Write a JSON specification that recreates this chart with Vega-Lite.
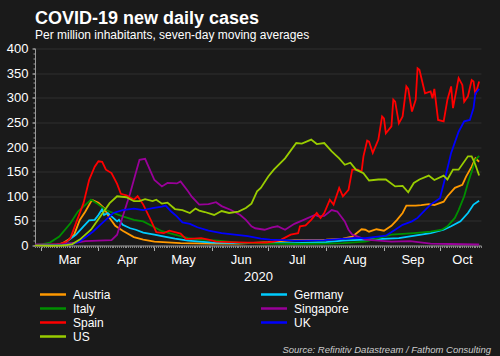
{
"$schema": "https://vega.github.io/schema/vega-lite/v6.json",
"width": 446, "height": 197,
"autosize": {"type": "none"},
"padding": {"left": 35, "top": 48.5, "right": 19, "bottom": 110.5},
"background": "#1a1a1a",
"title": {"text": "COVID-19 new daily cases", "subtitle": "Per million inhabitants, seven-day moving averages", "anchor": "start", "frame": "group", "offset": 2, "font": "Liberation Sans", "fontSize": 18, "fontWeight": "bold", "color": "#ffffff", "subtitleFont": "Liberation Sans", "subtitleFontSize": 12, "subtitleColor": "#ffffff", "subtitlePadding": 1.5},
"datasets": {"covid": [
{"d":"2020-02-27","c":"Austria","v":0},{"d":"2020-03-08","c":"Austria","v":0},{"d":"2020-03-10","c":"Austria","v":2},{"d":"2020-03-13","c":"Austria","v":5},{"d":"2020-03-16","c":"Austria","v":12},{"d":"2020-03-19","c":"Austria","v":22},{"d":"2020-03-22","c":"Austria","v":52},{"d":"2020-03-25","c":"Austria","v":69},{"d":"2020-03-28","c":"Austria","v":89},{"d":"2020-03-29","c":"Austria","v":92},{"d":"2020-04-01","c":"Austria","v":87},{"d":"2020-04-04","c":"Austria","v":76},{"d":"2020-04-07","c":"Austria","v":56},{"d":"2020-04-10","c":"Austria","v":40},{"d":"2020-04-14","c":"Austria","v":30},{"d":"2020-04-20","c":"Austria","v":17},{"d":"2020-04-25","c":"Austria","v":12},{"d":"2020-05-01","c":"Austria","v":8},{"d":"2020-05-15","c":"Austria","v":5},{"d":"2020-06-01","c":"Austria","v":4},{"d":"2020-06-15","c":"Austria","v":4},{"d":"2020-07-01","c":"Austria","v":7},{"d":"2020-07-15","c":"Austria","v":11},{"d":"2020-08-01","c":"Austria","v":12},{"d":"2020-08-10","c":"Austria","v":14},{"d":"2020-08-15","c":"Austria","v":18},{"d":"2020-08-20","c":"Austria","v":33},{"d":"2020-08-22","c":"Austria","v":32},{"d":"2020-08-24","c":"Austria","v":28},{"d":"2020-08-28","c":"Austria","v":33},{"d":"2020-09-01","c":"Austria","v":30},{"d":"2020-09-05","c":"Austria","v":40},{"d":"2020-09-08","c":"Austria","v":52},{"d":"2020-09-11","c":"Austria","v":66},{"d":"2020-09-13","c":"Austria","v":81},{"d":"2020-09-18","c":"Austria","v":81},{"d":"2020-09-21","c":"Austria","v":82},{"d":"2020-09-25","c":"Austria","v":84},{"d":"2020-09-28","c":"Austria","v":82},{"d":"2020-10-03","c":"Austria","v":89},{"d":"2020-10-05","c":"Austria","v":100},{"d":"2020-10-09","c":"Austria","v":117},{"d":"2020-10-13","c":"Austria","v":123},{"d":"2020-10-15","c":"Austria","v":140},{"d":"2020-10-18","c":"Austria","v":160},{"d":"2020-10-20","c":"Austria","v":177},{"d":"2020-10-22","c":"Austria","v":170},
{"d":"2020-02-27","c":"Germany","v":0},{"d":"2020-03-10","c":"Germany","v":1},{"d":"2020-03-14","c":"Germany","v":5},{"d":"2020-03-20","c":"Germany","v":22},{"d":"2020-03-24","c":"Germany","v":39},{"d":"2020-03-27","c":"Germany","v":51},{"d":"2020-03-30","c":"Germany","v":52},{"d":"2020-04-01","c":"Germany","v":62},{"d":"2020-04-03","c":"Germany","v":74},{"d":"2020-04-04","c":"Germany","v":62},{"d":"2020-04-06","c":"Germany","v":66},{"d":"2020-04-08","c":"Germany","v":59},{"d":"2020-04-11","c":"Germany","v":49},{"d":"2020-04-12","c":"Germany","v":52},{"d":"2020-04-14","c":"Germany","v":42},{"d":"2020-04-18","c":"Germany","v":35},{"d":"2020-04-21","c":"Germany","v":32},{"d":"2020-04-25","c":"Germany","v":26},{"d":"2020-05-01","c":"Germany","v":22},{"d":"2020-05-05","c":"Germany","v":19},{"d":"2020-05-12","c":"Germany","v":14},{"d":"2020-05-19","c":"Germany","v":10},{"d":"2020-06-01","c":"Germany","v":6},{"d":"2020-06-15","c":"Germany","v":5},{"d":"2020-07-01","c":"Germany","v":5},{"d":"2020-07-15","c":"Germany","v":5},{"d":"2020-08-01","c":"Germany","v":7},{"d":"2020-08-10","c":"Germany","v":10},{"d":"2020-08-22","c":"Germany","v":12},{"d":"2020-09-09","c":"Germany","v":15},{"d":"2020-09-26","c":"Germany","v":25},{"d":"2020-10-03","c":"Germany","v":32},{"d":"2020-10-07","c":"Germany","v":39},{"d":"2020-10-12","c":"Germany","v":49},{"d":"2020-10-16","c":"Germany","v":66},{"d":"2020-10-19","c":"Germany","v":83},{"d":"2020-10-22","c":"Germany","v":91},
{"d":"2020-02-27","c":"Italy","v":1},{"d":"2020-03-02","c":"Italy","v":3},{"d":"2020-03-06","c":"Italy","v":6},{"d":"2020-03-11","c":"Italy","v":18},{"d":"2020-03-17","c":"Italy","v":45},{"d":"2020-03-21","c":"Italy","v":69},{"d":"2020-03-26","c":"Italy","v":86},{"d":"2020-03-28","c":"Italy","v":93},{"d":"2020-03-31","c":"Italy","v":86},{"d":"2020-04-05","c":"Italy","v":72},{"d":"2020-04-09","c":"Italy","v":66},{"d":"2020-04-14","c":"Italy","v":59},{"d":"2020-04-20","c":"Italy","v":52},{"d":"2020-04-25","c":"Italy","v":49},{"d":"2020-04-30","c":"Italy","v":39},{"d":"2020-05-05","c":"Italy","v":29},{"d":"2020-05-12","c":"Italy","v":22},{"d":"2020-05-19","c":"Italy","v":15},{"d":"2020-05-26","c":"Italy","v":12},{"d":"2020-06-04","c":"Italy","v":10},{"d":"2020-06-15","c":"Italy","v":6},{"d":"2020-07-01","c":"Italy","v":4},{"d":"2020-07-15","c":"Italy","v":3},{"d":"2020-08-01","c":"Italy","v":4},{"d":"2020-08-10","c":"Italy","v":5},{"d":"2020-08-22","c":"Italy","v":8},{"d":"2020-09-05","c":"Italy","v":22},{"d":"2020-09-17","c":"Italy","v":25},{"d":"2020-09-26","c":"Italy","v":28},{"d":"2020-10-02","c":"Italy","v":32},{"d":"2020-10-05","c":"Italy","v":39},{"d":"2020-10-09","c":"Italy","v":56},{"d":"2020-10-11","c":"Italy","v":72},{"d":"2020-10-14","c":"Italy","v":100},{"d":"2020-10-16","c":"Italy","v":127},{"d":"2020-10-18","c":"Italy","v":150},{"d":"2020-10-20","c":"Italy","v":174},{"d":"2020-10-22","c":"Italy","v":182},
{"d":"2020-02-27","c":"Singapore","v":2},{"d":"2020-03-10","c":"Singapore","v":2},{"d":"2020-03-20","c":"Singapore","v":6},{"d":"2020-03-25","c":"Singapore","v":9},{"d":"2020-04-01","c":"Singapore","v":10},{"d":"2020-04-08","c":"Singapore","v":11},{"d":"2020-04-11","c":"Singapore","v":22},{"d":"2020-04-14","c":"Singapore","v":59},{"d":"2020-04-18","c":"Singapore","v":106},{"d":"2020-04-21","c":"Singapore","v":147},{"d":"2020-04-23","c":"Singapore","v":174},{"d":"2020-04-26","c":"Singapore","v":176},{"d":"2020-04-29","c":"Singapore","v":150},{"d":"2020-05-01","c":"Singapore","v":133},{"d":"2020-05-05","c":"Singapore","v":120},{"d":"2020-05-08","c":"Singapore","v":127},{"d":"2020-05-13","c":"Singapore","v":126},{"d":"2020-05-15","c":"Singapore","v":130},{"d":"2020-05-19","c":"Singapore","v":110},{"d":"2020-05-21","c":"Singapore","v":99},{"d":"2020-05-25","c":"Singapore","v":83},{"d":"2020-05-30","c":"Singapore","v":84},{"d":"2020-06-03","c":"Singapore","v":88},{"d":"2020-06-06","c":"Singapore","v":80},{"d":"2020-06-11","c":"Singapore","v":72},{"d":"2020-06-16","c":"Singapore","v":62},{"d":"2020-06-19","c":"Singapore","v":52},{"d":"2020-06-22","c":"Singapore","v":39},{"d":"2020-06-24","c":"Singapore","v":35},{"d":"2020-06-29","c":"Singapore","v":32},{"d":"2020-07-03","c":"Singapore","v":37},{"d":"2020-07-06","c":"Singapore","v":39},{"d":"2020-07-10","c":"Singapore","v":32},{"d":"2020-07-15","c":"Singapore","v":44},{"d":"2020-07-20","c":"Singapore","v":52},{"d":"2020-07-26","c":"Singapore","v":62},{"d":"2020-07-28","c":"Singapore","v":59},{"d":"2020-07-31","c":"Singapore","v":60},{"d":"2020-08-04","c":"Singapore","v":72},{"d":"2020-08-07","c":"Singapore","v":69},{"d":"2020-08-11","c":"Singapore","v":49},{"d":"2020-08-13","c":"Singapore","v":32},{"d":"2020-08-15","c":"Singapore","v":22},{"d":"2020-08-18","c":"Singapore","v":18},{"d":"2020-08-22","c":"Singapore","v":12},{"d":"2020-09-05","c":"Singapore","v":8},{"d":"2020-09-15","c":"Singapore","v":9},{"d":"2020-09-26","c":"Singapore","v":4},{"d":"2020-10-06","c":"Singapore","v":3},{"d":"2020-10-22","c":"Singapore","v":2},
{"d":"2020-02-27","c":"Spain","v":0},{"d":"2020-03-05","c":"Spain","v":1},{"d":"2020-03-09","c":"Spain","v":2},{"d":"2020-03-12","c":"Spain","v":4},{"d":"2020-03-15","c":"Spain","v":8},{"d":"2020-03-17","c":"Spain","v":15},{"d":"2020-03-20","c":"Spain","v":46},{"d":"2020-03-24","c":"Spain","v":86},{"d":"2020-03-27","c":"Spain","v":133},{"d":"2020-03-30","c":"Spain","v":160},{"d":"2020-04-01","c":"Spain","v":171},{"d":"2020-04-03","c":"Spain","v":170},{"d":"2020-04-05","c":"Spain","v":154},{"d":"2020-04-08","c":"Spain","v":147},{"d":"2020-04-11","c":"Spain","v":125},{"d":"2020-04-13","c":"Spain","v":105},{"d":"2020-04-16","c":"Spain","v":102},{"d":"2020-04-20","c":"Spain","v":93},{"d":"2020-04-22","c":"Spain","v":100},{"d":"2020-04-25","c":"Spain","v":83},{"d":"2020-04-29","c":"Spain","v":52},{"d":"2020-05-02","c":"Spain","v":27},{"d":"2020-05-06","c":"Spain","v":25},{"d":"2020-05-09","c":"Spain","v":30},{"d":"2020-05-13","c":"Spain","v":26},{"d":"2020-05-15","c":"Spain","v":24},{"d":"2020-05-18","c":"Spain","v":13},{"d":"2020-05-22","c":"Spain","v":14},{"d":"2020-05-26","c":"Spain","v":15},{"d":"2020-05-30","c":"Spain","v":12},{"d":"2020-06-03","c":"Spain","v":8},{"d":"2020-06-10","c":"Spain","v":7},{"d":"2020-06-20","c":"Spain","v":6},{"d":"2020-06-30","c":"Spain","v":6},{"d":"2020-07-04","c":"Spain","v":8},{"d":"2020-07-08","c":"Spain","v":12},{"d":"2020-07-13","c":"Spain","v":22},{"d":"2020-07-17","c":"Spain","v":25},{"d":"2020-07-18","c":"Spain","v":39},{"d":"2020-07-21","c":"Spain","v":41},{"d":"2020-07-24","c":"Spain","v":52},{"d":"2020-07-27","c":"Spain","v":66},{"d":"2020-07-29","c":"Spain","v":56},{"d":"2020-07-31","c":"Spain","v":66},{"d":"2020-08-03","c":"Spain","v":93},{"d":"2020-08-05","c":"Spain","v":83},{"d":"2020-08-08","c":"Spain","v":117},{"d":"2020-08-10","c":"Spain","v":100},{"d":"2020-08-13","c":"Spain","v":113},{"d":"2020-08-15","c":"Spain","v":154},{"d":"2020-08-18","c":"Spain","v":154},{"d":"2020-08-20","c":"Spain","v":150},{"d":"2020-08-21","c":"Spain","v":181},{"d":"2020-08-23","c":"Spain","v":213},{"d":"2020-08-24","c":"Spain","v":211},{"d":"2020-08-26","c":"Spain","v":188},{"d":"2020-08-29","c":"Spain","v":215},{"d":"2020-08-31","c":"Spain","v":262},{"d":"2020-09-01","c":"Spain","v":258},{"d":"2020-09-02","c":"Spain","v":228},{"d":"2020-09-05","c":"Spain","v":242},{"d":"2020-09-06","c":"Spain","v":296},{"d":"2020-09-07","c":"Spain","v":292},{"d":"2020-09-09","c":"Spain","v":248},{"d":"2020-09-11","c":"Spain","v":262},{"d":"2020-09-13","c":"Spain","v":323},{"d":"2020-09-14","c":"Spain","v":318},{"d":"2020-09-16","c":"Spain","v":272},{"d":"2020-09-18","c":"Spain","v":296},{"d":"2020-09-19","c":"Spain","v":360},{"d":"2020-09-20","c":"Spain","v":357},{"d":"2020-09-23","c":"Spain","v":309},{"d":"2020-09-26","c":"Spain","v":313},{"d":"2020-09-27","c":"Spain","v":299},{"d":"2020-09-28","c":"Spain","v":318},{"d":"2020-09-30","c":"Spain","v":255},{"d":"2020-10-03","c":"Spain","v":252},{"d":"2020-10-05","c":"Spain","v":296},{"d":"2020-10-07","c":"Spain","v":323},{"d":"2020-10-08","c":"Spain","v":279},{"d":"2020-10-11","c":"Spain","v":340},{"d":"2020-10-13","c":"Spain","v":326},{"d":"2020-10-14","c":"Spain","v":292},{"d":"2020-10-16","c":"Spain","v":303},{"d":"2020-10-18","c":"Spain","v":336},{"d":"2020-10-19","c":"Spain","v":333},{"d":"2020-10-20","c":"Spain","v":306},{"d":"2020-10-22","c":"Spain","v":333},
{"d":"2020-02-27","c":"UK","v":0},{"d":"2020-03-15","c":"UK","v":2},{"d":"2020-03-18","c":"UK","v":3},{"d":"2020-03-22","c":"UK","v":8},{"d":"2020-03-29","c":"UK","v":28},{"d":"2020-04-04","c":"UK","v":49},{"d":"2020-04-09","c":"UK","v":66},{"d":"2020-04-14","c":"UK","v":72},{"d":"2020-04-20","c":"UK","v":75},{"d":"2020-04-25","c":"UK","v":72},{"d":"2020-04-30","c":"UK","v":76},{"d":"2020-05-05","c":"UK","v":79},{"d":"2020-05-07","c":"UK","v":81},{"d":"2020-05-10","c":"UK","v":69},{"d":"2020-05-13","c":"UK","v":59},{"d":"2020-05-16","c":"UK","v":47},{"d":"2020-05-20","c":"UK","v":44},{"d":"2020-05-24","c":"UK","v":37},{"d":"2020-05-30","c":"UK","v":30},{"d":"2020-06-06","c":"UK","v":25},{"d":"2020-06-13","c":"UK","v":22},{"d":"2020-06-20","c":"UK","v":19},{"d":"2020-06-27","c":"UK","v":14},{"d":"2020-07-02","c":"UK","v":12},{"d":"2020-07-15","c":"UK","v":10},{"d":"2020-07-31","c":"UK","v":11},{"d":"2020-08-15","c":"UK","v":15},{"d":"2020-08-22","c":"UK","v":15},{"d":"2020-09-02","c":"UK","v":20},{"d":"2020-09-07","c":"UK","v":32},{"d":"2020-09-11","c":"UK","v":42},{"d":"2020-09-16","c":"UK","v":49},{"d":"2020-09-19","c":"UK","v":56},{"d":"2020-09-23","c":"UK","v":72},{"d":"2020-09-26","c":"UK","v":83},{"d":"2020-10-01","c":"UK","v":96},{"d":"2020-10-04","c":"UK","v":140},{"d":"2020-10-07","c":"UK","v":188},{"d":"2020-10-11","c":"UK","v":231},{"d":"2020-10-14","c":"UK","v":252},{"d":"2020-10-17","c":"UK","v":255},{"d":"2020-10-19","c":"UK","v":279},{"d":"2020-10-20","c":"UK","v":309},{"d":"2020-10-22","c":"UK","v":318},
{"d":"2020-02-27","c":"US","v":0},{"d":"2020-03-12","c":"US","v":0},{"d":"2020-03-15","c":"US","v":1},{"d":"2020-03-18","c":"US","v":3},{"d":"2020-03-22","c":"US","v":12},{"d":"2020-03-28","c":"US","v":32},{"d":"2020-04-02","c":"US","v":59},{"d":"2020-04-07","c":"US","v":86},{"d":"2020-04-11","c":"US","v":100},{"d":"2020-04-16","c":"US","v":98},{"d":"2020-04-20","c":"US","v":90},{"d":"2020-04-23","c":"US","v":90},{"d":"2020-04-26","c":"US","v":94},{"d":"2020-04-30","c":"US","v":90},{"d":"2020-05-02","c":"US","v":93},{"d":"2020-05-05","c":"US","v":85},{"d":"2020-05-08","c":"US","v":87},{"d":"2020-05-12","c":"US","v":74},{"d":"2020-05-16","c":"US","v":72},{"d":"2020-05-20","c":"US","v":66},{"d":"2020-05-23","c":"US","v":75},{"d":"2020-05-25","c":"US","v":71},{"d":"2020-05-28","c":"US","v":68},{"d":"2020-06-02","c":"US","v":62},{"d":"2020-06-06","c":"US","v":70},{"d":"2020-06-10","c":"US","v":66},{"d":"2020-06-15","c":"US","v":69},{"d":"2020-06-19","c":"US","v":76},{"d":"2020-06-22","c":"US","v":85},{"d":"2020-06-25","c":"US","v":110},{"d":"2020-06-27","c":"US","v":117},{"d":"2020-07-01","c":"US","v":140},{"d":"2020-07-04","c":"US","v":154},{"d":"2020-07-10","c":"US","v":177},{"d":"2020-07-16","c":"US","v":208},{"d":"2020-07-19","c":"US","v":207},{"d":"2020-07-24","c":"US","v":215},{"d":"2020-07-27","c":"US","v":206},{"d":"2020-07-31","c":"US","v":208},{"d":"2020-08-04","c":"US","v":191},{"d":"2020-08-08","c":"US","v":177},{"d":"2020-08-11","c":"US","v":164},{"d":"2020-08-14","c":"US","v":168},{"d":"2020-08-17","c":"US","v":154},{"d":"2020-08-21","c":"US","v":147},{"d":"2020-08-24","c":"US","v":132},{"d":"2020-08-29","c":"US","v":134},{"d":"2020-09-02","c":"US","v":134},{"d":"2020-09-07","c":"US","v":120},{"d":"2020-09-11","c":"US","v":121},{"d":"2020-09-14","c":"US","v":108},{"d":"2020-09-17","c":"US","v":127},{"d":"2020-09-20","c":"US","v":134},{"d":"2020-09-25","c":"US","v":142},{"d":"2020-09-28","c":"US","v":133},{"d":"2020-10-03","c":"US","v":142},{"d":"2020-10-05","c":"US","v":134},{"d":"2020-10-08","c":"US","v":154},{"d":"2020-10-11","c":"US","v":154},{"d":"2020-10-16","c":"US","v":181},{"d":"2020-10-18","c":"US","v":181},{"d":"2020-10-20","c":"US","v":164},{"d":"2020-10-22","c":"US","v":142}
]},
"layer": [
{"data": {"name": "covid"},
 "mark": {"type": "line", "strokeWidth": 1.8},
 "encoding": {
  "x": {"field": "d", "type": "temporal",
   "scale": {"type": "utc", "domain": [{"year": 2020, "month": 2, "date": 27, "utc": true}, {"year": 2020, "month": 10, "date": 23, "utc": true}]},
   "axis": {"orient": "bottom", "title": "2020", "titleFont": "Liberation Sans", "titleFontSize": 13, "titleFontWeight": "normal", "titleColor": "#ffffff", "titlePadding": 4,
    "labelExpr": "utcFormat(datum.value, '%b')", "tickCount": {"interval": "month", "step": 1},
    "labelOffset": {"condition": {"test": "utcmonth(datum.value) == 9", "value": 22}, "value": 28.5},
    "labelFont": "Liberation Sans", "labelFontSize": 13, "labelColor": "#ffffff", "labelPadding": 3, "labelFlush": false, "labelOverlap": false,
    "tickSize": 5, "tickColor": "#aaaaaa", "domainColor": "#999999", "grid": false}},
  "y": {"field": "v", "type": "quantitative", "scale": {"domain": [0, 400]},
   "axis": {"orient": "left", "title": null, "values": [0, 50, 100, 150, 200, 250, 300, 350, 400],
    "labelFont": "Liberation Sans", "labelFontSize": 13, "labelColor": "#ffffff", "labelPadding": 4,
    "tickSize": 3, "tickColor": "#bbbbbb", "domainColor": "#999999", "grid": true, "gridColor": "#2e2e2e", "gridWidth": 1}},
  "color": {"field": "c", "type": "nominal",
   "scale": {"domain": ["Austria", "Germany", "Italy", "Singapore", "Spain", "UK", "US"], "range": ["#ff9900", "#00ccff", "#008f00", "#990099", "#ff0000", "#0000ff", "#99cc00"]},
   "legend": {"orient": "none", "direction": "horizontal", "legendX": 10, "legendY": 238, "columns": 2, "columnPadding": 145, "rowPadding": -0.3, "padding": 0,
    "symbolType": "M-2,0H2", "symbolSize": 169, "symbolStrokeWidth": 2.5,
    "labelFont": "Liberation Sans", "labelFontSize": 12, "labelColor": "#ffffff", "labelOffset": 12, "title": null}}
 }},
{"data": {"name": "covid"},
 "mark": {"type": "point", "opacity": 0},
 "encoding": {
  "x": {"field": "d", "type": "temporal",
   "axis": {"orient": "bottom", "title": null, "labels": false, "domain": false, "grid": false, "tickCount": {"interval": "day", "step": 1}, "tickSize": 2, "tickColor": "#888888"}},
  "y": {"field": "v", "type": "quantitative",
   "axis": {"orient": "left", "title": null, "labels": false, "domain": false, "grid": false, "values": [0,10,20,30,40,50,60,70,80,90,100,110,120,130,140,150,160,170,180,190,200,210,220,230,240,250,260,270,280,290,300,310,320,330,340,350,360,370,380,390,400], "tickSize": 2, "tickColor": "#999999"}}
 }},
{"data": {"values": [{"s": "Source: Refinitiv Datastream / Fathom Consulting"}]},
 "mark": {"type": "text", "align": "right", "baseline": "middle", "dx": 10, "dy": 104, "font": "Liberation Sans", "fontSize": 9.5, "fontStyle": "italic", "color": "#cccccc"},
 "encoding": {"text": {"field": "s"}, "x": {"value": "width"}, "y": {"value": "height"}}}
],
"resolve": {"axis": {"x": "independent", "y": "independent"}},
"config": {"view": {"stroke": null}}
}
